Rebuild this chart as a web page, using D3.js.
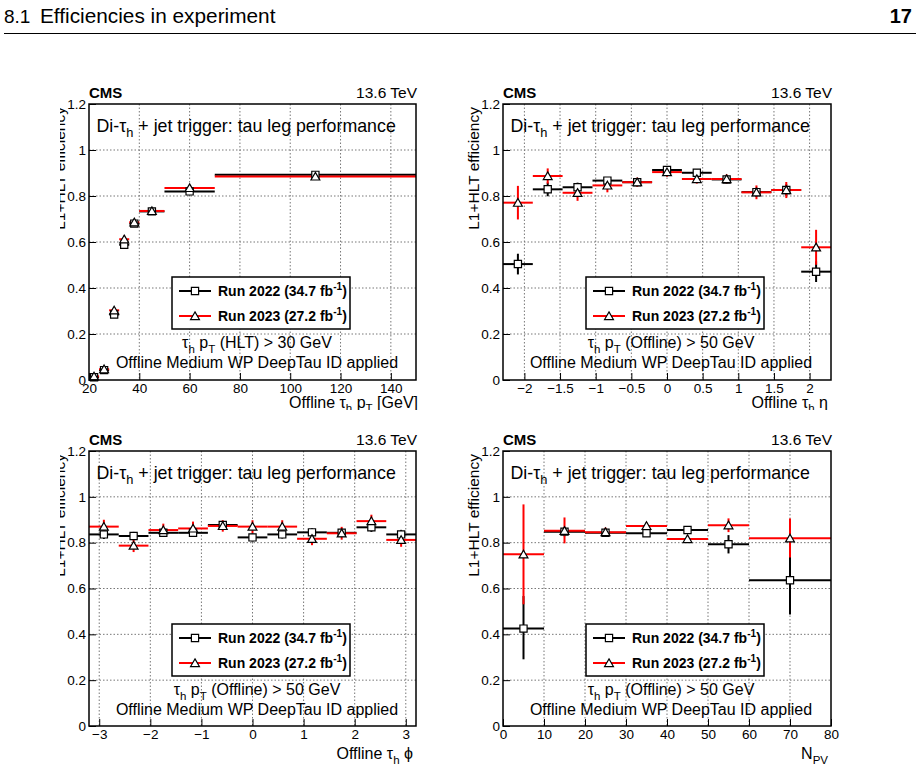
<!DOCTYPE html>
<html>
<head>
<meta charset="utf-8">
<script src="https://cdnjs.cloudflare.com/ajax/libs/d3/7.8.5/d3.min.js"></script>
<style>
  body { margin: 0; background: #fff; }
  svg { display: block; font-family: "Liberation Sans", Arial, Helvetica, sans-serif; }
  .grid { stroke: #777; stroke-width: 1; stroke-dasharray: 1.5 2; }
</style>
</head>
<body>
<script>
// ---------- data ----------
// tau pT (GeV)
const ptEdges   = [20, 24, 28, 32, 36, 40, 50, 70, 150];
const ptEff2022 = [0.012, 0.043, 0.285, 0.588, 0.680, 0.733, 0.820, 0.892];
const ptErr2022 = [0.004, 0.006, 0.012, 0.014, 0.010, 0.008, 0.006, 0.005];
const ptEff2023 = [0.016, 0.047, 0.303, 0.612, 0.686, 0.735, 0.835, 0.885];
const ptErr2023 = [0.005, 0.007, 0.014, 0.016, 0.012, 0.009, 0.007, 0.006];

// tau eta
const etaEdges   = [-2.3, -1.882, -1.464, -1.045, -0.627, -0.209, 0.209, 0.627, 1.045, 1.464, 1.882, 2.3];
const etaEff2022 = [0.504, 0.829, 0.838, 0.867, 0.860, 0.913, 0.901, 0.872, 0.817, 0.826, 0.471];
const etaErr2022 = [0.045, 0.030, 0.020, 0.015, 0.015, 0.015, 0.015, 0.015, 0.020, 0.025, 0.045];
const etaEff2023 = [0.771, 0.887, 0.814, 0.846, 0.860, 0.904, 0.874, 0.874, 0.816, 0.826, 0.577];
const etaErr2023 = [0.073, 0.033, 0.035, 0.030, 0.020, 0.020, 0.020, 0.020, 0.030, 0.035, 0.076];

// tau phi
const phiEdges   = [-3.2, -2.618, -2.036, -1.455, -0.873, -0.291, 0.291, 0.873, 1.455, 2.036, 2.618, 3.2];
const phiEff2022 = [0.836, 0.829, 0.843, 0.843, 0.877, 0.823, 0.836, 0.845, 0.843, 0.867, 0.836];
const phiErr2022 = [0.020, 0.018, 0.018, 0.018, 0.015, 0.018, 0.018, 0.018, 0.018, 0.020, 0.020];
const phiEff2023 = [0.870, 0.787, 0.855, 0.862, 0.873, 0.870, 0.870, 0.817, 0.841, 0.894, 0.812];
const phiErr2023 = [0.030, 0.028, 0.028, 0.030, 0.025, 0.028, 0.028, 0.028, 0.028, 0.028, 0.030];

// number of primary vertices
const npvEdges    = [0, 10, 20, 30, 40, 50, 60, 80];
const npvEff2022  = [0.425, 0.848, 0.843, 0.841, 0.855, 0.793, 0.636];
const npvUp2022   = [0.142, 0.020, 0.012, 0.010, 0.012, 0.040, 0.139];
const npvDown2022 = [0.134, 0.020, 0.012, 0.010, 0.012, 0.040, 0.149];
const npvEff2023  = [0.749, 0.852, 0.846, 0.873, 0.816, 0.876, 0.819];
const npvUp2023   = [0.218, 0.058, 0.020, 0.015, 0.015, 0.030, 0.086];
const npvDown2023 = [0.218, 0.055, 0.020, 0.015, 0.015, 0.030, 0.084];

const yTicks = [0, 0.2, 0.4, 0.6, 0.8, 1, 1.2];
const legendLabels = [["Run 2022 (34.7 fb", "-1", ")"], ["Run 2023 (27.2 fb", "-1", ")"]];

// ---------- page ----------
const svg = d3.select("body").append("svg")
  .attr("width", 920).attr("height", 768);

svg.append("rect").attr("width", 920).attr("height", 768).attr("fill", "#fff");

// header of the paper page
svg.append("text").attr("x", 4).attr("y", 23).attr("font-size", 19).text("8.1");
svg.append("text").attr("x", 40).attr("y", 23).attr("font-size", 20.8).text("Efficiencies in experiment");
svg.append("text").attr("x", 912).attr("y", 23).attr("font-size", 20)
  .attr("font-weight", "bold").attr("text-anchor", "end").text("17");
svg.append("line").attr("x1", 4).attr("x2", 916).attr("y1", 33.5).attr("y2", 33.5)
  .attr("stroke", "#000").attr("stroke-width", 1);

const defs = svg.append("defs");
[["cTL", 60, 40, 400, 370], ["cTR", 460, 40, 460, 370],
 ["cBL", 60, 412, 400, 356], ["cBR", 460, 412, 460, 356]].forEach(c => {
  defs.append("clipPath").attr("id", c[0]).append("rect")
    .attr("x", c[1]).attr("y", c[2]).attr("width", c[3]).attr("height", c[4]);
});

// text with sub/superscripts: parts = [[string, "n"|"sub"|"sup"], ...]
function rich(textSel, parts, size) {
  let shift = 0;
  parts.forEach(([s, k]) => {
    const target = k === "sub" ? 0.3 * size : (k === "sup" ? -0.42 * size : 0);
    const t = textSel.append("tspan").text(s).attr("dy", target - shift);
    if (k !== "n") t.attr("font-size", size * 0.72);
    shift = target;
  });
  return textSel;
}

const tau = [["τ", "n"], ["h", "sub"]];

const panels = [
  { clip: "cTL", left: 89, right: 416, top: 104, bottom: 380,
    xDomain: [20, 150], xMajor: d3.range(20, 151, 20), xMinor: d3.range(20, 151, 4),
    edges: ptEdges,
    series: [[ptEff2022, ptErr2022, ptErr2022], [ptEff2023, ptErr2023, ptErr2023]],
    xTitle: [["Offline ", "n"], ...tau, [" p", "n"], ["T", "sub"], [" [GeV]", "n"]],
    xTitleEnd: 418, xTitleY: 27.5,
    cut: [...tau, [" p", "n"], ["T", "sub"], [" (HLT) > 30 GeV", "n"]] },
  { clip: "cTR", left: 503, right: 831, top: 104, bottom: 380,
    xDomain: [-2.3, 2.3], xMajor: d3.range(-2, 2.01, 0.5), xMinor: d3.range(-2.2, 2.31, 0.1),
    edges: etaEdges,
    series: [[etaEff2022, etaErr2022, etaErr2022], [etaEff2023, etaErr2023, etaErr2023]],
    xTitle: [["Offline ", "n"], ...tau, [" η", "n"]], xTitleEnd: 828, xTitleY: 27.5,
    cut: [...tau, [" p", "n"], ["T", "sub"], [" (Offline) > 50 GeV", "n"]] },
  { clip: "cBL", left: 89, right: 416, top: 451, bottom: 726,
    xDomain: [-3.2, 3.2], xMajor: d3.range(-3, 3.01, 1), xMinor: d3.range(-3.2, 3.21, 0.2),
    edges: phiEdges,
    series: [[phiEff2022, phiErr2022, phiErr2022], [phiEff2023, phiErr2023, phiErr2023]],
    xTitle: [["Offline ", "n"], ...tau, [" ϕ", "n"]], xTitleEnd: 413, xTitleY: 33,
    cut: [...tau, [" p", "n"], ["T", "sub"], [" (Offline) > 50 GeV", "n"]] },
  { clip: "cBR", left: 503, right: 831, top: 451, bottom: 726,
    xDomain: [0, 80], xMajor: d3.range(0, 81, 10), xMinor: d3.range(0, 81, 2),
    edges: npvEdges,
    series: [[npvEff2022, npvUp2022, npvDown2022], [npvEff2023, npvUp2023, npvDown2023]],
    xTitle: [["N", "n"], ["PV", "sub"]], xTitleEnd: 828, xTitleY: 33,
    cut: [...tau, [" p", "n"], ["T", "sub"], [" (Offline) > 50 GeV", "n"]] }
];

const colors = ["#000", "#ff0000"];
const squareSym = d3.symbol().type(d3.symbolSquare).size(52);
const triSym = d3.symbol().type(d3.symbolTriangle).size(34);
const fmtX = d3.format("~g");
const fmtY = d => d === 0 ? "0" : (d === 1 ? "1" : d3.format(".1f")(d));

panels.forEach(p => {
  const g = svg.append("g").attr("clip-path", `url(#${p.clip})`);
  const x = d3.scaleLinear().domain(p.xDomain).range([p.left, p.right]);
  const y = d3.scaleLinear().domain([0, 1.2]).range([p.bottom, p.top]);

  // dotted grid at major ticks
  g.append("g").selectAll("line")
    .data(p.xMajor.filter(v => x(v) > p.left + 1 && x(v) < p.right - 1))
    .join("line").attr("class", "grid")
    .attr("x1", d => x(d)).attr("x2", d => x(d)).attr("y1", p.top).attr("y2", p.bottom);
  g.append("g").selectAll("line")
    .data(yTicks.filter(v => v > 0 && v < 1.2))
    .join("line").attr("class", "grid")
    .attr("y1", d => y(d)).attr("y2", d => y(d)).attr("x1", p.left).attr("x2", p.right);

  // error bars: horizontal = bin width, vertical = uncertainty
  const binned = p.series.map(([eff, up, dn]) => eff.map((v, i) => ({
    lo: p.edges[i], hi: p.edges[i + 1], v, up: up[i], dn: dn[i]
  })));
  binned.forEach((bins, si) => {
    const sg = g.append("g").attr("stroke", colors[si]).attr("stroke-width", 2);
    sg.selectAll("line.h").data(bins).join("line").attr("class", "h")
      .attr("x1", d => x(d.lo)).attr("x2", d => x(d.hi))
      .attr("y1", d => y(d.v)).attr("y2", d => y(d.v));
    sg.selectAll("line.v").data(bins).join("line").attr("class", "v")
      .attr("x1", d => x((d.lo + d.hi) / 2)).attr("x2", d => x((d.lo + d.hi) / 2))
      .attr("y1", d => y(d.v + d.up)).attr("y2", d => y(d.v - d.dn));
  });
  // markers
  g.append("g").selectAll("path").data(binned[0]).join("path")
    .attr("d", squareSym)
    .attr("transform", d => `translate(${x((d.lo + d.hi) / 2)},${y(d.v)})`)
    .attr("fill", "#fff").attr("stroke", "#000").attr("stroke-width", 1.2);
  g.append("g").selectAll("path").data(binned[1]).join("path")
    .attr("d", triSym)
    .attr("transform", d => `translate(${x((d.lo + d.hi) / 2)},${y(d.v) + 1})`)
    .attr("fill", "#fff").attr("stroke", "#000").attr("stroke-width", 1.2);

  // frame
  g.append("rect").attr("x", p.left).attr("y", p.top)
    .attr("width", p.right - p.left).attr("height", p.bottom - p.top)
    .attr("fill", "none").attr("stroke", "#000").attr("stroke-width", 1.5);

  // axes with inward ticks
  const ax = g.append("g").attr("transform", `translate(0,${p.bottom})`);
  ax.call(d3.axisBottom(x).tickValues(p.xMinor).tickSize(-3.5).tickFormat(""));
  ax.call(d3.axisBottom(x).tickValues(p.xMajor).tickSize(-7).tickPadding(3).tickFormat(fmtX));
  const ay = g.append("g").attr("transform", `translate(${p.left},0)`);
  ay.call(d3.axisLeft(y).tickValues(d3.range(0, 1.201, 0.04)).tickSize(-3.5).tickFormat(""));
  ay.call(d3.axisLeft(y).tickValues(yTicks).tickSize(-7).tickPadding(3).tickFormat(fmtY));
  g.selectAll(".domain").remove();
  g.selectAll(".tick line").attr("stroke", "#000").attr("stroke-width", 1);
  g.selectAll(".tick text").attr("font-family", "Liberation Sans, Arial, sans-serif")
    .attr("font-size", 13.5).attr("fill", "#000");

  // labels
  g.append("text").attr("x", p.left).attr("y", p.top - 6)
    .attr("font-size", 15).attr("font-weight", "bold").text("CMS");
  g.append("text").attr("x", p.right + 1).attr("y", p.top - 6)
    .attr("font-size", 15.5).attr("text-anchor", "end").text("13.6 TeV");
  rich(g.append("text").attr("x", p.left + 7.5).attr("y", p.top + 28).attr("font-size", 17.8),
    [["Di-", "n"], ...tau, [" + jet trigger: tau leg performance", "n"]], 17.8);
  rich(g.append("text").attr("transform", `translate(${p.left - 24},${p.top + 3}) rotate(-90)`)
    .attr("text-anchor", "end").attr("font-size", 15.5), [["L1+HLT efficiency", "n"]], 15.5);
  rich(g.append("text").attr("x", p.xTitleEnd).attr("y", p.bottom + p.xTitleY)
    .attr("text-anchor", "end").attr("font-size", 16), p.xTitle, 16);
  rich(g.append("text").attr("x", p.left + 168).attr("y", p.top + 244)
    .attr("text-anchor", "middle").attr("font-size", 16), p.cut, 16);
  g.append("text").attr("x", p.left + 168).attr("y", p.top + 264)
    .attr("text-anchor", "middle").attr("font-size", 16)
    .text("Offline Medium WP DeepTau ID applied");

  // legend
  const lx = p.left + 83, ly = p.top + 173;
  const lg = g.append("g");
  lg.append("rect").attr("x", lx).attr("y", ly).attr("width", 178).attr("height", 52)
    .attr("fill", "#fff").attr("stroke", "#000").attr("stroke-width", 1.5);
  legendLabels.forEach((lab, i) => {
    const cy = ly + 14 + i * 25;
    lg.append("line").attr("x1", lx + 7).attr("x2", lx + 39).attr("y1", cy).attr("y2", cy)
      .attr("stroke", colors[i]).attr("stroke-width", 2);
    lg.append("path").attr("d", i === 0 ? squareSym() : triSym())
      .attr("transform", `translate(${lx + 23},${cy + (i === 0 ? 0 : 1)})`)
      .attr("fill", "#fff").attr("stroke", "#000").attr("stroke-width", 1.2);
    rich(lg.append("text").attr("x", lx + 46).attr("y", cy + 5)
      .attr("font-size", 14).attr("font-weight", "bold"),
      [[lab[0], "n"], [lab[1], "sup"], [lab[2], "n"]], 14);
  });
});
</script>
</body>
</html>
